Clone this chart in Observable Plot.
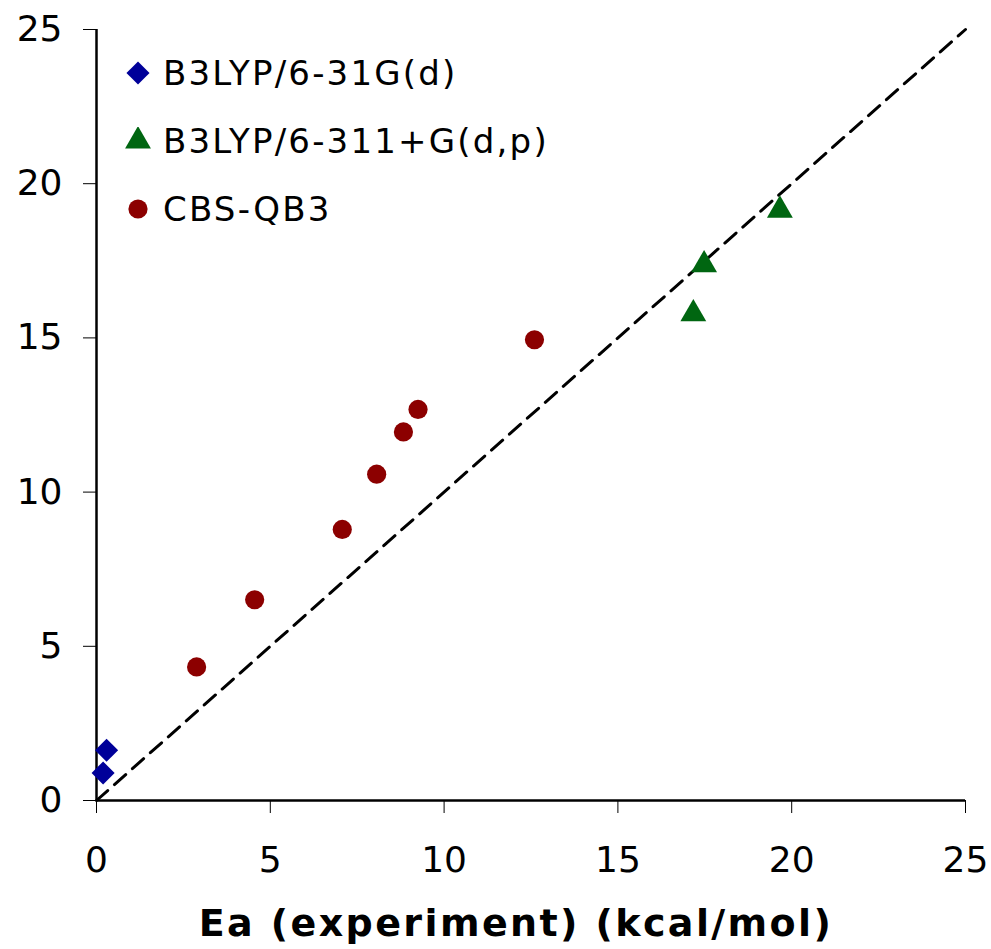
<!DOCTYPE html>
<html>
<head>
<meta charset="utf-8">
<script src="https://cdn.jsdelivr.net/npm/d3@7"></script>
<script src="https://cdn.jsdelivr.net/npm/@observablehq/plot@0.6"></script>
<style>
  body { margin: 0; background: #fff; font-family: "DejaVu Sans", Verdana, sans-serif; }
  #wrap { position: relative; width: 991px; height: 949px; }
  #legend { position: absolute; left: 124px; top: 39px; font-size: 34px; letter-spacing: 2.2px; color: #000; }
  #legend .row { position: relative; height: 68px; display: flex; align-items: center; }
  #legend svg { width: 28px; height: 28px; margin-right: 11px; }
  #xlabel { position: absolute; left: 0; width: 1032px; top: 898px; text-align: center; font-weight: bold; font-size: 38px; letter-spacing: 2.4px; line-height: 50px; }
</style>
</head>
<body>
<div id="wrap">
  <div id="chart"></div>
  <div id="legend"></div>
  <div id="xlabel">Ea (experiment) (kcal/mol)</div>
</div>
<script>
const seriesNames = ["B3LYP/6-31G(d)", "B3LYP/6-311+G(d,p)", "CBS-QB3"];
const seriesColors = ["#000099", "#006611", "#8c0000"];
const seriesSymbols = ["diamond2", "triangle", "circle"];

const b3lyp631x = [0.19, 0.29];
const b3lyp631y = [0.89, 1.63];

const b3lyp6311x = [17.17, 17.48, 19.66];
const b3lyp6311y = [15.78, 17.37, 19.14];

const cbsx = [2.88, 4.55, 7.07, 8.06, 8.83, 9.25, 12.6];
const cbsy = [4.33, 6.51, 8.79, 10.58, 11.95, 12.68, 14.94];

const axisTicks = [0, 5, 10, 15, 20, 25];
const parityLine = [0, 25];

const toRows = (xs, ys) => xs.map((x, i) => ({x, y: ys[i]}));
const blue = toRows(b3lyp631x, b3lyp631y);
const green = toRows(b3lyp6311x, b3lyp6311y);
const red = toRows(cbsx, cbsy);
const diag = parityLine.map(v => ({x: v, y: v}));

const chart = Plot.plot({
  width: 991,
  height: 890,
  marginLeft: 96,
  marginRight: 26,
  marginTop: 29,
  marginBottom: 90,
  x: {domain: [0, 25]},
  y: {domain: [0, 25]},
  style: {fontFamily: "DejaVu Sans, Verdana, sans-serif", fontSize: "36px", color: "#000", background: "#fff", overflow: "visible"},
  marks: [
    Plot.axisX({ticks: axisTicks, tickSize: 13, tickPadding: 33, tickWidth: 2.5, label: null, fontSize: 36, stroke: "#000"}),
    Plot.axisY({ticks: axisTicks, tickSize: 13, tickPadding: 21, tickWidth: 2.5, label: null, fontSize: 36, stroke: "#000"}),
    Plot.line(diag, {x: "x", y: "y", stroke: "#000", strokeWidth: 3, strokeDasharray: "15,9"}),
    Plot.ruleX([0], {stroke: "#000", strokeWidth: 2.5}),
    Plot.ruleY([0], {stroke: "#000", strokeWidth: 2.5}),
    Plot.dot(blue, {x: "x", y: "y", symbol: seriesSymbols[0], fill: seriesColors[0], r: 10.4}),
    Plot.dot(green, {x: "x", y: "y", symbol: seriesSymbols[1], fill: seriesColors[1], r: 9.6}),
    Plot.dot(red, {x: "x", y: "y", symbol: seriesSymbols[2], fill: seriesColors[2], r: 9.6})
  ]
});
document.getElementById("chart").appendChild(chart);

// legend
const legend = d3.select("#legend");
const symType = {diamond2: d3.symbolDiamond2, triangle: d3.symbolTriangle, circle: d3.symbolCircle};
const symSize = [Math.PI * 10.4 * 10.4, Math.PI * 9.6 * 9.6, Math.PI * 9.6 * 9.6];
seriesNames.forEach((name, i) => {
  const row = legend.append("div").attr("class", "row");
  const s = row.append("svg").attr("viewBox", "-14 -14 28 28");
  s.append("path").attr("d", d3.symbol(symType[seriesSymbols[i]], symSize[i])()).attr("fill", seriesColors[i]);
  row.append("span").text(name);
});
</script>
</body>
</html>
